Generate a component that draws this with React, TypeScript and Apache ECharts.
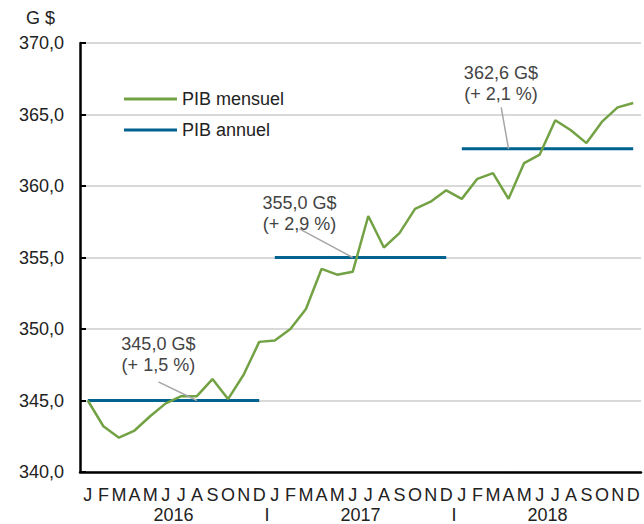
import React, { useEffect, useRef } from "react";
import * as echarts from "echarts";

const monthLetters = ["J", "F", "M", "A", "M", "J", "J", "A", "S", "O", "N", "D"];
const years = ["2016", "2017", "2018"];
const monthly = [
  345.0, 343.2, 342.4, 342.9, 343.9, 344.8, 345.3, 345.3, 346.5, 345.1, 346.8, 349.1,
  349.2, 350.0, 351.4, 354.2, 353.8, 354.0, 357.9, 355.7, 356.7, 358.4, 358.9, 359.7,
  359.1, 360.5, 360.9, 359.1, 361.6, 362.2, 364.6, 363.9, 363.0, 364.5, 365.5, 365.8,
];
const annualValues = [345.0, 355.0, 362.6];
const annualLabels = ["345,0 G$\n(+ 1,5 %)", "355,0 G$\n(+ 2,9 %)", "362,6 G$\n(+ 2,1 %)"];
// annotation anchors in month-index units (text centre, leader start, leader end month)
const labelCentreIdx = [4.53, 13.58, 26.51];
const labelCentreVal = [348.2, 358.1, 367.2];
const leaderStartIdx = [4.53, 13.58, 26.53];
const leaderStartVal = [346.3, 357.0, 365.5];
const leaderEndMonth = [7, 17, 27];

const yMin = 340;
const yMax = 370;
const yInterval = 5;

const GREEN = "#72a244";
const BLUE = "#00628f";
const FONT = "Liberation Sans, Arial, sans-serif";

export default function App() {
  const ref = useRef<HTMLDivElement>(null);
  useEffect(() => {
    document.body.style.margin = "0";
    if (!ref.current) return;
    const chart = echarts.init(ref.current, null, { renderer: "svg" });
    const categories: string[] = [];
    years.forEach(() => monthLetters.forEach((m) => categories.push(m)));

    const annualSeries = annualValues.map((v, yi) => ({
      name: "PIB annuel",
      type: "line",
      xAxisIndex: 0,
      yAxisIndex: 0,
      symbol: "none",
      lineStyle: { color: BLUE, width: 3 },
      itemStyle: { color: BLUE },
      z: 3,
      data: categories.map((_, i) => (Math.floor(i / 12) === yi ? v : null)),
    }));

    const yearLabelFor = (val: number) => {
      const k = Math.round(val / 6);
      if (k % 2 === 1) return years[(k - 1) / 2] ?? "";
      if (k > 0 && k < 6) return "I";
      return "";
    };

    chart.setOption({
      animation: false,
      textStyle: { fontFamily: FONT },
      title: {
        text: "G $",
        left: 26,
        top: 9,
        padding: 0,
        textStyle: { fontFamily: FONT, fontSize: 18, fontWeight: "normal", color: "#222" },
      },
      legend: {
        orient: "vertical",
        left: 124,
        top: 90,
        padding: 0,
        icon: "rect",
        itemWidth: 53,
        itemHeight: 3,
        itemGap: 13,
        data: ["PIB mensuel", "PIB annuel"],
        textStyle: { fontFamily: FONT, fontSize: 18, color: "#222", lineHeight: 18 },
      },
      grid: { left: 80, right: 0, top: 43, bottom: 52, containLabel: false },
      xAxis: [
        {
          type: "category",
          data: categories,
          boundaryGap: true,
          axisLine: { show: true, lineStyle: { color: "#000", width: 2.5 } },
          axisTick: { show: false },
          axisLabel: {
            interval: 0,
            margin: 14,
            fontFamily: FONT,
            fontSize: 18,
            color: "#222",
          },
          splitLine: { show: false },
        },
        {
          type: "value",
          position: "bottom",
          min: 0,
          max: 36,
          interval: 6,
          offset: 20,
          axisLine: { show: false },
          axisTick: { show: false },
          splitLine: { show: false },
          axisLabel: {
            margin: 14,
            fontFamily: FONT,
            fontSize: 18,
            color: "#222",
            formatter: (v: number) => yearLabelFor(v),
          },
        },
      ],
      yAxis: {
        type: "value",
        min: yMin,
        max: yMax,
        interval: yInterval,
        axisLine: { show: true, lineStyle: { color: "#000", width: 2.5 } },
        axisTick: { show: true, inside: true, length: 6, lineStyle: { color: "#000", width: 2 } },
        splitLine: { show: true, lineStyle: { color: "#d9d9d9", width: 2 } },
        axisLabel: {
          margin: 16,
          fontFamily: FONT,
          fontSize: 18,
          color: "#222",
          formatter: (v: number) => v.toFixed(1).replace(".", ","),
        },
      },
      series: [
        {
          name: "PIB mensuel",
          type: "line",
          xAxisIndex: 0,
          yAxisIndex: 0,
          symbol: "none",
          lineStyle: { color: GREEN, width: 2.5 },
          itemStyle: { color: GREEN },
          z: 4,
          data: monthly,
        },
        ...annualSeries,
        {
          name: "annotations",
          type: "line",
          xAxisIndex: 1,
          yAxisIndex: 0,
          data: [],
          z: 2,
          markLine: {
            silent: true,
            symbol: "none",
            label: { show: false },
            lineStyle: { color: "#a6a6a6", width: 1.5, type: "solid" },
            data: annualValues.map((v, k) => [
              { coord: [leaderStartIdx[k] + 0.5, leaderStartVal[k]] },
              { coord: [leaderEndMonth[k] + 0.5, v] },
            ]),
          },
          markPoint: {
            silent: true,
            symbol: "rect",
            symbolSize: 0,
            itemStyle: { color: "transparent" },
            label: {
              show: true,
              position: "inside",
              color: "#444",
              fontFamily: FONT,
              fontSize: 18,
              lineHeight: 21,
              align: "center",
              formatter: (p: any) => annualLabels[p.dataIndex],
            },
            data: annualValues.map((_, k) => ({
              coord: [labelCentreIdx[k] + 0.5, labelCentreVal[k]],
            })),
          },
        },
      ],
    });
    return () => chart.dispose();
  }, []);
  return <div ref={ref} style={{ width: 644, height: 524 }} />;
}
